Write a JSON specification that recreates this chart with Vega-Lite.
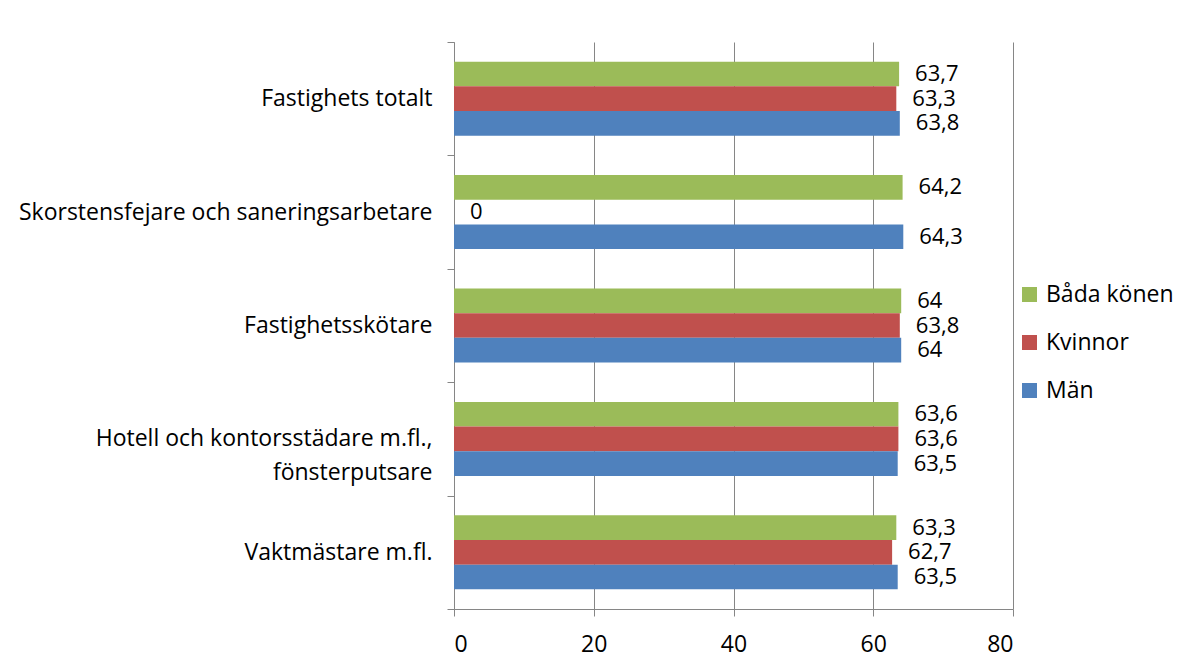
{
  "$schema": "https://vega.github.io/schema/vega-lite/v6.json",
  "width": 559,
  "height": 567,
  "autosize": {"type": "none"},
  "padding": {"left": 454, "top": 42, "right": 169, "bottom": 61},
  "background": "white",
  "config": {
    "font": "Open Sans",
    "view": {"stroke": null},
    "axis": {"labelFont": "Open Sans", "labelColor": "black", "labelFontSize": 23, "domainColor": "#868686", "tickColor": "#868686", "tickSize": 7, "gridColor": "#868686", "title": null}
  },
  "data": {
    "values": [
      {"kat": "Fastighets totalt", "grupp": "Båda könen", "varde": 63.7, "etikett": "63,7"},
      {"kat": "Fastighets totalt", "grupp": "Kvinnor", "varde": 63.3, "etikett": "63,3"},
      {"kat": "Fastighets totalt", "grupp": "Män", "varde": 63.8, "etikett": "63,8"},
      {"kat": "Skorstensfejare och saneringsarbetare", "grupp": "Båda könen", "varde": 64.2, "etikett": "64,2"},
      {"kat": "Skorstensfejare och saneringsarbetare", "grupp": "Kvinnor", "varde": 0, "etikett": "0"},
      {"kat": "Skorstensfejare och saneringsarbetare", "grupp": "Män", "varde": 64.3, "etikett": "64,3"},
      {"kat": "Fastighetsskötare", "grupp": "Båda könen", "varde": 64, "etikett": "64"},
      {"kat": "Fastighetsskötare", "grupp": "Kvinnor", "varde": 63.8, "etikett": "63,8"},
      {"kat": "Fastighetsskötare", "grupp": "Män", "varde": 64, "etikett": "64"},
      {"kat": "Hotell och kontorsstädare m.fl., fönsterputsare", "grupp": "Båda könen", "varde": 63.6, "etikett": "63,6"},
      {"kat": "Hotell och kontorsstädare m.fl., fönsterputsare", "grupp": "Kvinnor", "varde": 63.6, "etikett": "63,6"},
      {"kat": "Hotell och kontorsstädare m.fl., fönsterputsare", "grupp": "Män", "varde": 63.5, "etikett": "63,5"},
      {"kat": "Vaktmästare m.fl.", "grupp": "Båda könen", "varde": 63.3, "etikett": "63,3"},
      {"kat": "Vaktmästare m.fl.", "grupp": "Kvinnor", "varde": 62.7, "etikett": "62,7"},
      {"kat": "Vaktmästare m.fl.", "grupp": "Män", "varde": 63.5, "etikett": "63,5"}
    ]
  },
  "encoding": {
    "y": {
      "field": "kat",
      "type": "nominal",
      "sort": null,
      "scale": {"paddingInner": 0, "paddingOuter": 0},
      "axis": {
        "tickBand": "extent",
        "labelPadding": 15,
        "labelLimit": 500,
        "labelLineHeight": 34,
        "labelExpr": "datum.value == 'Hotell och kontorsstädare m.fl., fönsterputsare' ? ['Hotell och kontorsstädare m.fl.,', 'fönsterputsare'] : datum.value"
      }
    },
    "yOffset": {
      "field": "grupp",
      "type": "nominal",
      "sort": ["Båda könen", "Kvinnor", "Män"],
      "scale": {"paddingInner": 0, "paddingOuter": 0.8}
    },
    "x": {
      "field": "varde",
      "type": "quantitative",
      "scale": {"domain": [0, 80], "nice": false},
      "axis": {"values": [0, 20, 40, 60, 80], "grid": true, "labelPadding": 17, "format": "d"}
    }
  },
  "layer": [
    {
      "mark": {"type": "bar"},
      "encoding": {
        "color": {
          "field": "grupp",
          "type": "nominal",
          "sort": ["Båda könen", "Kvinnor", "Män"],
          "scale": {"domain": ["Båda könen", "Kvinnor", "Män"], "range": ["#9BBB59", "#C0504D", "#4F81BD"]},
          "legend": {
            "title": null,
            "orient": "none",
            "legendX": 564,
            "legendY": 241,
            "symbolType": "square",
            "symbolSize": 225,
            "symbolStrokeWidth": 0,
            "labelFontSize": 23,
            "labelFont": "Open Sans",
            "labelColor": "black",
            "rowPadding": 24,
            "labelOffset": 5
          }
        }
      }
    },
    {
      "mark": {"type": "text", "align": "left", "baseline": "middle", "dx": 16, "fontSize": 22, "font": "Open Sans", "color": "black"},
      "encoding": {"text": {"field": "etikett"}}
    }
  ]
}
